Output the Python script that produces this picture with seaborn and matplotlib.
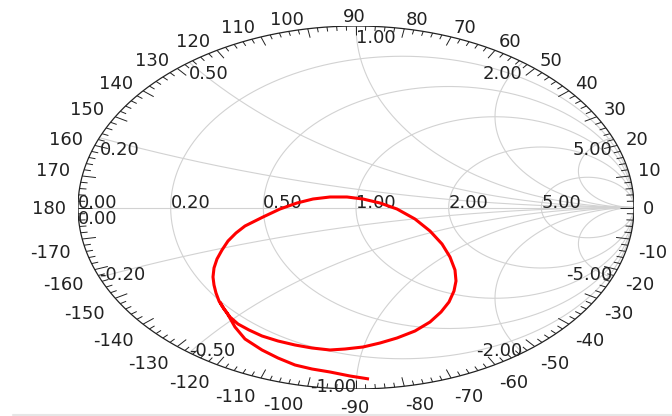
import numpy as np
import pandas as pd
import matplotlib
matplotlib.use("Agg")
import matplotlib.pyplot as plt
from matplotlib.collections import LineCollection
import seaborn as sns

# Reflection coefficient trace (real / imaginary parts, in sweep order)
gamma_re = [0.0468, -0.0216, -0.0935, -0.1583, -0.2194, -0.2806, -0.3381, -0.3993,
            -0.4353, -0.4640, -0.4820, -0.4928, -0.5036, -0.5108, -0.5144, -0.5108,
            -0.5000, -0.4820, -0.4604, -0.4317, -0.3993, -0.3345, -0.2734, -0.2122,
            -0.1547, -0.0935, -0.0324, 0.0252, 0.0863, 0.1475, 0.2122, 0.2662,
            0.3094, 0.3381, 0.3561, 0.3597, 0.3525, 0.3345, 0.3058, 0.2662,
            0.2122, 0.1475, 0.0863, 0.0252, -0.0396, -0.0935, -0.1583, -0.2194,
            -0.2806, -0.3381, -0.3849, -0.4245, -0.4532, -0.4748, -0.4892]
gamma_im = [-0.9449, -0.9284, -0.9063, -0.8898, -0.8678, -0.8292, -0.7851, -0.7245,
            -0.6584, -0.5813, -0.5427, -0.5152, -0.4711, -0.4270, -0.3829, -0.3333,
            -0.2837, -0.2342, -0.1846, -0.1405, -0.1019, -0.0523, -0.0083, 0.0248,
            0.0468, 0.0579, 0.0579, 0.0468, 0.0248, -0.0083, -0.0634, -0.1295,
            -0.2011, -0.2727, -0.3444, -0.4050, -0.4601, -0.5207, -0.5758, -0.6309,
            -0.6804, -0.7190, -0.7466, -0.7686, -0.7796, -0.7851, -0.7741, -0.7576,
            -0.7355, -0.7080, -0.6749, -0.6419, -0.6033, -0.5592, -0.5207]

# Smith chart grid values
resistance_values = [0.0, 0.2, 0.5, 1.0, 2.0, 5.0]
reactance_values = [5.0, 2.0, 1.0, 0.5, 0.2, 0.0, -0.2, -0.5, -1.0, -2.0, -5.0]
angle_labels = list(range(-170, 181, 10))

sns.set_theme(style="white")
plt.rcParams["font.family"] = ["DejaVu Sans"]

GRID = "#d2d2d2"
INK = "#222222"
FS = 13

fig = plt.figure(figsize=(6.72, 4.16), dpi=100)
ax = fig.add_axes([78 / 672, 27 / 416, 556 / 672, 363 / 416])

t = np.linspace(0, 2 * np.pi, 721)

# constant-resistance circles
for r in resistance_values[1:]:
    c, rad = r / (1 + r), 1 / (1 + r)
    ax.plot(c + rad * np.cos(t), rad * np.sin(t), color=GRID, lw=0.8, zorder=1)

# constant-reactance arcs
rr = np.tan(np.linspace(0, np.pi / 2 - 2e-4, 1500))
for x in reactance_values:
    if x == 0:
        ax.plot([-1, 1], [0, 0], color=GRID, lw=0.8, zorder=1)
        continue
    g = (rr + 1j * x - 1) / (rr + 1j * x + 1)
    ax.plot(g.real, g.imag, color=GRID, lw=0.8, zorder=1)

# outer circle with angle ticks
ax.plot(np.cos(t), np.sin(t), color=INK, lw=0.9, zorder=2)
segs = []
for deg in range(-180, 180, 2):
    a = np.deg2rad(deg)
    L = 0.05 if deg % 10 == 0 else 0.025
    segs.append([(np.cos(a), np.sin(a)), ((1 - L) * np.cos(a), (1 - L) * np.sin(a))])
ax.add_collection(LineCollection(segs, colors=INK, linewidths=0.7, zorder=2))

# resistance labels along the real axis
for r in resistance_values:
    g = (r - 1) / (r + 1)
    ax.annotate(f"{r:.2f}", xy=(g, 0), xytext=(0, 0), textcoords="offset pixels",
                ha="left", va="baseline", fontsize=FS, color=INK,
                annotation_clip=False, zorder=3)

# reactance labels along the rim
for x in reactance_values:
    z = 1j * x
    g = (z - 1) / (z + 1)
    if abs(g.real) < 1e-9:
        ha = "left" if x > 0 else "right"
    else:
        ha = "left" if g.real < 0 else "right"
    if x >= 0:
        va, dy = "top", -3
    else:
        va, dy = "baseline", -3
    ax.annotate(f"{x:.2f}", xy=(g.real, g.imag), xytext=(0, dy),
                textcoords="offset pixels", ha=ha, va=va, fontsize=FS,
                color=INK, annotation_clip=False, zorder=3)

# angle labels outside the rim
for deg in angle_labels:
    a = np.deg2rad(deg)
    c, s = np.cos(a), np.sin(a)
    if abs(c) < 1e-6:
        ha, dx = "center", -1.5
    elif c > 0:
        ha, dx = "left", -0.5 + 9 * c
    else:
        ha, dx = "right", -(2 + 10 * abs(c))
    if abs(s) < 1e-6:
        va, dy = "baseline", -7
    elif s > 0:
        va, dy = "baseline", 5 * s - 1
    else:
        va, dy = "top", -(4 + 6 * abs(s))
    ax.annotate(f"{deg}", xy=(c, s), xytext=(dx, dy), textcoords="offset pixels",
                ha=ha, va=va, fontsize=FS, color=INK, annotation_clip=False)

# measured trace
trace = pd.DataFrame({"re": gamma_re, "im": gamma_im})
sns.lineplot(data=trace, x="re", y="im", sort=False, estimator=None,
             color="red", lw=2.2, ax=ax, zorder=4,
             solid_joinstyle="round", solid_capstyle="butt")
ax.set_xlim(-1, 1)
ax.set_ylim(-1, 1)
ax.axis("off")

fig.add_artist(plt.Line2D([13 / 672, 1], [1.5 / 416, 1.5 / 416],
                          color="#e6e6e6", lw=1.5, transform=fig.transFigure))

fig.savefig("out.png", dpi=100)
